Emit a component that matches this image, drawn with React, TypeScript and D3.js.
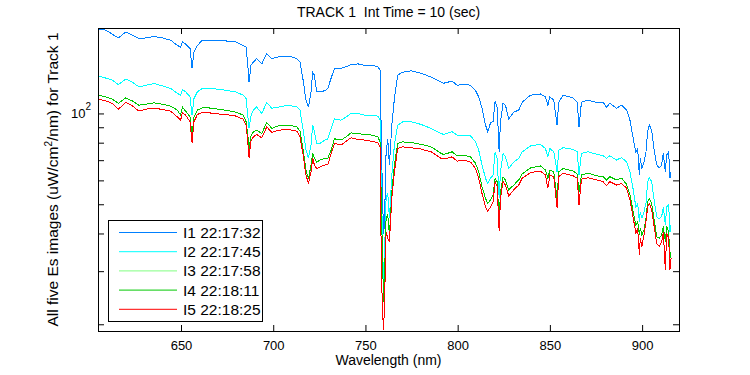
import { useEffect, useRef } from 'react';
import * as d3 from 'd3';

// wavelength grid (nm) shared by all five spectra
const wavelengths = [
  605.2, 609.2, 612.8, 616, 620, 623.6, 627.2, 630.9, 635.4, 639.9, 644.4, 648, 649.8, 650.8, 652.5, 654.9, 656, 657, 658.9, 661.6, 665.2,
  666.6, 673.9, 679.3, 683.8, 685.3, 686.2, 686.9, 688, 689.3, 691, 693.8, 696.5, 699.2, 702.8, 708.3, 712.8, 714.5, 716.4, 717.6, 719.1, 720.5, 721.4, 722.3, 723.6, 725.4, 728.1,
  729.6, 731.4, 733.2, 736.8, 739.5, 742.2, 745.9, 749.5, 753.1, 756.7, 757.9, 758.5, 759.1, 759.8, 760.3, 761.2, 762.1, 763, 764.3, 765.7, 767.5, 770.2, 774.7, 780.1, 785.6, 791,
  792.5, 797, 799.7, 803.3, 807, 809.7, 811.4, 813.2, 815.1, 816.3, 817.8, 819.2, 820.3, 821.4, 822.5, 823.2, 824.6, 825.9, 827.7, 830.4, 833.1, 835, 839.5, 844.9, 847.6, 848.9, 850, 852.1, 853.9, 854.8,
  857.2, 862.6, 864.8, 865.8, 867.1, 870.7, 875.3, 878.9, 880.7, 882.5, 886.1, 888.9, 891.6, 893.4, 895.2, 896.6, 897.6, 898.5, 899, 899.9, 901, 902.1, 903, 903.9, 905.2, 906.4, 907.9, 909.3, 910.6, 911.5, 912.6, 913.3, 914.4, 915.1, 915.7,
];

const i1 = [
  190, 189, 183, 178, 186, 182, 177, 178, 180, 178, 175, 168, 166, 173, 170, 164, 141, 160, 168, 175, 175,
  175, 174, 173, 168, 166, 144.5, 127, 145, 148, 152, 146, 158, 152, 154, 155, 152, 148, 127, 112, 105, 118, 137, 134, 118, 118, 119,
  121, 131, 141, 141, 143, 145, 146, 144.5, 144.5, 143, 139, 91.5, 58, 40, 42.7, 74.6, 82.4, 67.5, 91.5, 112, 134, 137, 138.5, 136, 132, 127,
  126, 128, 124, 125, 124, 119, 113.5, 104, 91.5, 87, 93, 94, 110, 105, 74.6, 94, 108, 106.5, 96, 101, 102.6, 109, 115, 116, 113.5, 106.5, 113.5, 110.7, 91.5, 109,
  115, 112.6, 109, 90, 109, 110.7, 108.7, 108.7, 105, 108, 104, 106.5, 102.6, 95, 82.4, 74.6, 76.5, 62.5, 71, 65.7, 69, 74.6, 87, 91.5, 88, 76.5, 67.5, 66, 67.5, 73.7, 64.1, 72.8, 74.6, 61, 64,
];

const i2 = [
  133, 131, 129, 124.7, 130, 127, 122.5, 124, 125.7, 123.4, 121, 116.5, 115, 120, 118, 113.5, 98.7, 112, 118, 121, 121,
  121, 119.5, 118, 115, 112, 98.7, 89.2, 98.7, 102.6, 105, 100, 108.7, 104, 105, 106.5, 105, 102.6, 87, 76.5, 71, 78.6, 91.5, 87, 79.6, 79.6, 81.6,
  82.4, 89, 96, 95, 97.4, 100, 100, 98.7, 98.7, 98, 95, 62.5, 42.7, 27, 33.2, 52.3, 54.5, 45, 62.5, 78.6, 91.5, 93.8, 93.8, 92, 89.2, 85.8,
  85.2, 87, 84.8, 84.8, 84.3, 80.5, 75.6, 67.5, 61, 58.6, 61, 62.5, 74.6, 71, 52.3, 64, 73.7, 71.8, 65.7, 69, 71, 74.6, 78, 79, 76.5, 71.8, 76.5, 74.6, 64, 75.6,
  77, 76, 74.6, 62.5, 73.7, 74.6, 73.3, 72.4, 71, 72.4, 70.1, 71.4, 69, 64, 55.8, 49, 50.3, 43.8, 47.2, 45, 47.2, 50.3, 59.4, 61.2, 59.4, 52.3, 45.5, 44.7, 45.5, 49, 42.7, 49, 49.7, 40.5, 42.7,
];

// I3 runs underneath I4 for the whole range
const i3 = [
  115, 113.5, 111.5, 108, 112.6, 110, 106.5, 107.3, 108.4, 107.3, 105.7, 102.6, 98.7, 105, 101.8, 97.4, 84.8, 97.4, 102.6, 104.3, 104.3,
  104, 102.6, 101.2, 98.7, 93.8, 84.8, 76.5, 84.8, 87, 88, 85.8, 93.4, 89.2, 91, 91.5, 90.3, 87.4, 74.6, 65.7, 60.6, 67.5, 73.7, 71, 69, 70.1, 71,
  71, 75.6, 82.4, 81.6, 83.7, 86.2, 85.8, 85.2, 84.8, 83.7, 80.5, 54.9, 36.8, 23.8, 28.4, 45, 46.1, 39.5, 54.9, 67.5, 79.6, 80.5, 80.1, 79, 77.5, 73.7,
  73.1, 74.6, 72.4, 72.7, 71.8, 68.3, 64, 57.2, 52.3, 50.3, 51.7, 53.7, 61, 59.4, 43.8, 54.9, 61.7, 60.2, 55.8, 57.9, 60.2, 63, 66, 67, 64.9, 61, 64.9, 64, 52.3, 64,
  65.7, 64.4, 63, 54.9, 62.5, 63.5, 62.1, 61.7, 60.2, 61.7, 60.2, 61, 58.2, 53.7, 47.2, 42.7, 43.8, 39.5, 41.6, 39.5, 41.1, 45, 51, 52.3, 50.3, 45, 39, 38.6, 39.5, 42.2, 37.5, 42.2, 40.5, 33.1, 34.8,
];

const i4 = [
  115, 113.5, 111.5, 108, 112.6, 110, 106.5, 107.3, 108.4, 107.3, 105.7, 102.6, 98.7, 105, 101.8, 97.4, 84.8, 97.4, 102.6, 104.3, 104.3,
  104, 102.6, 101.2, 98.7, 93.8, 84.8, 76.5, 84.8, 87, 88, 85.8, 93.4, 89.2, 91, 91.5, 90.3, 87.4, 74.6, 65.7, 60.6, 67.5, 73.7, 71, 69, 70.1, 71,
  71, 75.6, 82.4, 81.6, 83.7, 86.2, 85.8, 85.2, 84.8, 83.7, 80.5, 54.9, 36.8, 23.8, 28.4, 45, 46.1, 39.5, 54.9, 67.5, 79.6, 80.5, 80.1, 79, 77.5, 73.7,
  73.1, 74.6, 72.4, 72.7, 71.8, 68.3, 64, 57.2, 52.3, 50.3, 51.7, 53.7, 61, 59.4, 43.8, 54.9, 61.7, 60.2, 55.8, 57.9, 60.2, 63, 66, 67, 64.9, 61, 64.9, 64, 52.3, 64,
  65.7, 64.4, 63, 54.9, 62.5, 63.5, 62.1, 61.7, 60.2, 61.7, 60.2, 61, 58.2, 53.7, 47.2, 42.7, 43.8, 39.5, 41.6, 39.5, 41.1, 45, 51, 52.3, 50.3, 45, 39, 38.6, 39.5, 42.2, 37.5, 42.2, 40.5, 33.1, 34.8,
];

const i5 = [
  111.5, 110, 108, 103.3, 108.7, 106, 101.8, 103.3, 104.3, 103, 101.8, 97.4, 95, 100.8, 98.7, 93.8, 80.1, 93.8, 99.2, 100.8, 100.8,
  100, 99.2, 98.2, 95.7, 91.5, 80.5, 71.3, 81.6, 83.7, 85.2, 83, 90.3, 86.5, 88, 88.5, 87.4, 83.7, 71.8, 63, 58.6, 64, 71, 67.5, 65.7, 66.5, 67.5,
  67.5, 73.7, 79.6, 78.6, 80.9, 83, 82, 81.6, 80.9, 80.1, 77.5, 36.6, 23.2, 19.2, 22.6, 40.5, 38.6, 37.5, 52.3, 64, 76.5, 77.5, 77, 76.2, 74.6, 71,
  70.6, 71.8, 69.5, 70.1, 69, 65.7, 61, 54.3, 49, 47.4, 49, 51, 59.4, 57.2, 40.7, 52.3, 59.4, 57.9, 53.3, 55.8, 57.9, 61, 63.7, 64.4, 62.5, 56.5, 62.5, 61.7, 48.7, 61.7,
  63.3, 62.1, 61, 49.7, 60.6, 61.2, 60.2, 59.4, 57.6, 59.4, 57.9, 58.6, 56.5, 51.7, 45, 40.1, 41.6, 34, 38.6, 36.2, 39.5, 43.8, 49, 50.3, 47.9, 42.7, 37.1, 36.2, 37.5, 40.5, 30.3, 40.1, 38.6, 30.3, 33.1,
];

const seriesNames = ['I1 22:17:32', 'I2 22:17:45', 'I3 22:17:58', 'I4 22:18:11', 'I5 22:18:25'];
const seriesColors = ['#0080ff', '#00ffff', '#80ff80', '#00c800', '#ff0000'];
const seriesValues = [i1, i2, i3, i4, i5];

const xTicks = [650, 700, 750, 800, 850, 900];
const yTicks = [20, 30, 40, 50, 60, 70, 80, 90, 100];

const FONT = 'Liberation Sans, Arial, Helvetica, sans-serif';

export default function App() {
  const svgRef = useRef<SVGSVGElement>(null);

  useEffect(() => {
    if (!svgRef.current) return;
    const root = d3.select(svgRef.current);
    root.selectAll('*').remove();

    const left = 98, right = 679, top = 28, bottom = 331;
    const width = right - left;
    const height = bottom - top;

    const x = d3.scaleLinear().domain([605, 920]).range([left, right]);
    const y = d3.scaleLog().domain([19, 192]).range([bottom, top]);

    root.append('rect')
      .attr('width', 750).attr('height', 375).attr('fill', '#fff');

    // clip for the spectra
    root.append('defs').append('clipPath').attr('id', 'plot-clip')
      .append('rect')
      .attr('x', left).attr('y', top).attr('width', width).attr('height', height);

    const line = d3.line<number>()
      .x((_, i) => x(wavelengths[i]))
      .y(d => y(d));

    const lines = root.append('g').attr('clip-path', 'url(#plot-clip)');
    seriesValues.forEach((vals, i) => {
      lines.append('path')
        .datum(vals)
        .attr('fill', 'none')
        .attr('stroke', seriesColors[i])
        .attr('stroke-width', 1)
        .attr('shape-rendering', 'crispEdges')
        .attr('d', line);
    });

    // axes, MATLAB style: inward ticks on all four sides
    const styleAxis = (g: d3.Selection<SVGGElement, unknown, null, undefined>) => {
      g.select('.domain').remove();
      g.selectAll('line').attr('stroke', '#000');
      g.selectAll('text')
        .attr('fill', '#000')
        .style('font-family', FONT)
        .style('font-size', '13px');
    };

    root.append('g')
      .attr('transform', `translate(0,${bottom})`)
      .call(d3.axisBottom(x).tickValues(xTicks).tickSize(-6).tickPadding(10).tickFormat(d3.format('d')))
      .call(styleAxis);

    root.append('g')
      .attr('transform', `translate(0,${top})`)
      .call(d3.axisTop(x).tickValues(xTicks).tickSize(-6).tickFormat(() => ''))
      .call(styleAxis);

    root.append('g')
      .attr('transform', `translate(${left},0)`)
      .call(d3.axisLeft(y).tickValues(yTicks).tickSize(-6).tickFormat(() => ''))
      .call(styleAxis);

    root.append('g')
      .attr('transform', `translate(${right},0)`)
      .call(d3.axisRight(y).tickValues(yTicks).tickSize(-6).tickFormat(() => ''))
      .call(styleAxis);

    // 10^2 label on the log axis
    const decade = root.append('text')
      .attr('x', left - 7)
      .attr('y', y(100) + 5)
      .attr('text-anchor', 'end')
      .style('font-family', FONT)
      .style('font-size', '13px');
    decade.append('tspan').text('10');
    decade.append('tspan').attr('dy', -8).style('font-size', '10px').text('2');

    root.append('rect')
      .attr('x', left + 0.5).attr('y', top + 0.5)
      .attr('width', width).attr('height', height)
      .attr('fill', 'none').attr('stroke', '#000').attr('stroke-width', 1);

    // title and labels
    root.append('text')
      .attr('x', (left + right) / 2).attr('y', 17)
      .attr('text-anchor', 'middle')
      .attr('xml:space', 'preserve')
      .style('font-family', FONT).style('font-size', '14px')
      .text('TRACK 1  Int Time = 10 (sec)');

    root.append('text')
      .attr('x', (left + right) / 2).attr('y', 365)
      .attr('text-anchor', 'middle')
      .style('font-family', FONT).style('font-size', '14px')
      .text('Wavelength (nm)');

    const yLabel = root.append('text')
      .attr('transform', `translate(58,${(top + bottom) / 2}) rotate(-90)`)
      .attr('text-anchor', 'middle')
      .style('font-family', FONT).style('font-size', '15.5px');
    yLabel.append('tspan').text('All five Es images (uW/cm');
    yLabel.append('tspan').attr('dy', -6).style('font-size', '10px').text('2');
    yLabel.append('tspan').attr('dy', 6).text('/nm) for Track 1');

    // legend
    const legend = root.append('g');
    legend.append('rect')
      .attr('x', 108.5).attr('y', 220.5)
      .attr('width', 154).attr('height', 101)
      .attr('fill', '#fff').attr('stroke', '#000').attr('stroke-width', 1);
    seriesNames.forEach((name, i) => {
      const cy = 232.5 + i * 19.2;
      legend.append('line')
        .attr('x1', 119).attr('x2', 177)
        .attr('y1', cy).attr('y2', cy)
        .attr('stroke', seriesColors[i]).attr('stroke-width', 1);
      legend.append('text')
        .attr('x', 183).attr('y', cy + 5.5)
        .style('font-family', FONT).style('font-size', '15.5px')
        .text(name);
    });
  }, []);

  return (
    <svg
      ref={svgRef}
      width={750}
      height={375}
      style={{ position: 'absolute', left: 0, top: 0, display: 'block' }}
    />
  );
}
